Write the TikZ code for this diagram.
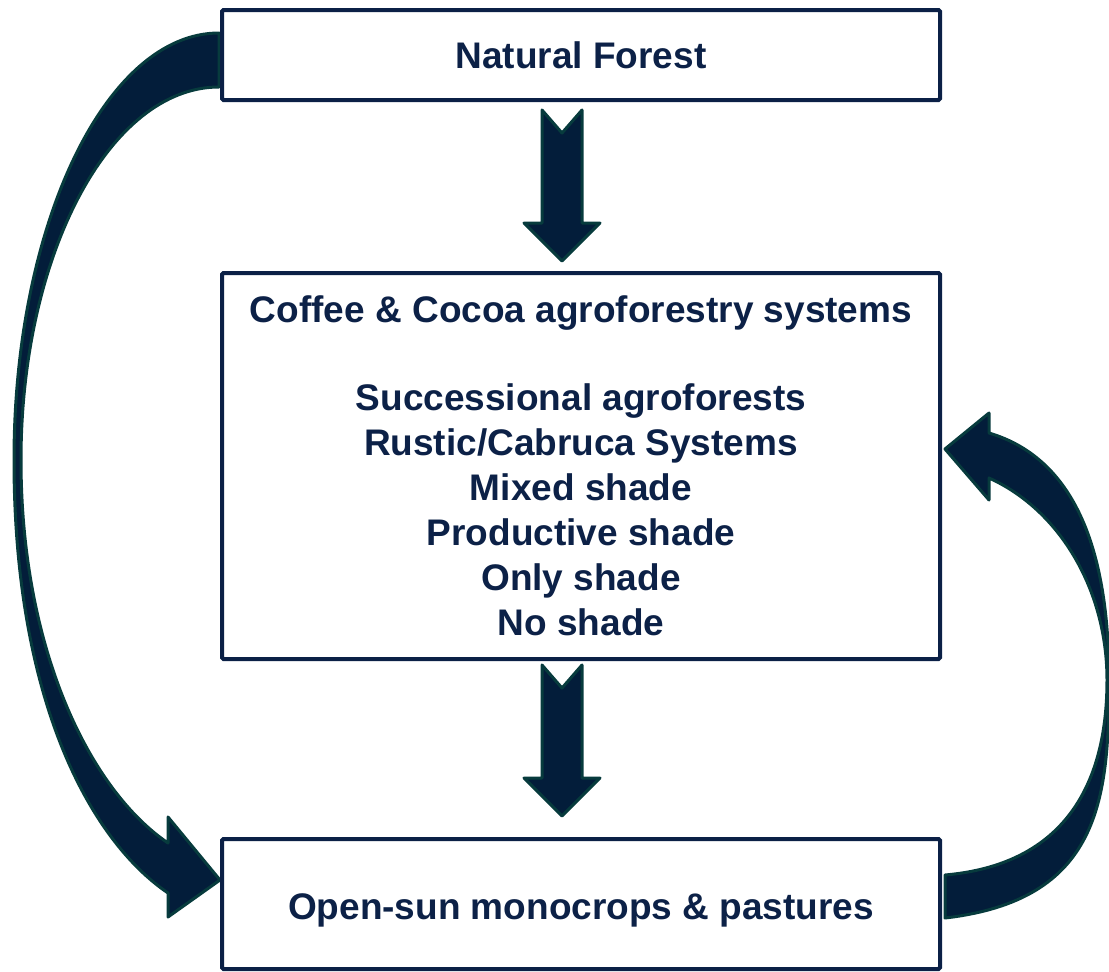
\documentclass[tikz,border=0pt]{standalone}
\usepackage{fontspec}
\setmainfont{Liberation Sans}
\usepackage{tikz}
\usetikzlibrary{calc}
\usetikzlibrary{positioning}
\definecolor{boxnavy}{HTML}{0B2046}
\definecolor{textnavy}{HTML}{0C2147}
\definecolor{arrowfill}{HTML}{031D3A}
\definecolor{arrowedge}{HTML}{073B3D}
\newcommand{\dnarrow}[1]{%
  \draw[blockarrow] ($(#1)+(-20,0)$) -- ++(20,23) -- ++(20,-23) -- ++(0,113)
    -- ++(18,0) -- ++(-38,38) -- ++(-38,-38) -- ++(18,0) -- cycle;}

\begin{document}
\begin{tikzpicture}[x=1pt,y=-1pt,
    box/.style={draw=boxnavy, line width=4pt, fill=white, rounded corners=1.5pt,
      minimum width=718pt, text=textnavy, align=center,
      font=\fontsize{37}{45}\selectfont\bfseries},
    blockarrow/.style={draw=arrowedge, fill=arrowfill, line width=3pt,
      line join=round}]

                \useasboundingbox (0,0) rectangle (1109,972);

                % Curved arrows first, so the boxes sit on top of their ends
                \draw[blockarrow] (219,33) .. controls (106,33) and (14,224) .. (14,460)
                  .. controls (14,700) and (90,840) .. (168,893)
                  -- (168,917) -- (220,880) -- (168,817) -- (168,843)
                  .. controls (90,790) and (21,650) .. (21,460)
                  .. controls (21,254) and (110,87) .. (219,87) -- cycle;
                \draw[blockarrow] (945,918) .. controls (1100,900) and (1109,800) .. (1109,680)
                  .. controls (1109,560) and (1080,460) .. (989,433)
                  -- (989,413) -- (945,449) -- (989,500) -- (989,478)
                  .. controls (1060,510) and (1107,590) .. (1107,680)
                  .. controls (1107,790) and (1060,865) .. (945,875) -- cycle;

                \node[box, minimum height=90pt] (forest) at (581,55)
                {Natural Forest};
                \node[box, minimum height=386pt, below=169pt of forest] (agro)
                {Coffee \& Cocoa agroforestry systems\\[43pt]
                 Successional agroforests\\ Rustic/Cabruca Systems\\ Mixed shade\\
                 Productive shade\\ Only shade\\ No shade};
                \node[box, minimum height=130pt, below=176pt of agro,
                  text height=39pt, text depth=8pt] (open)
                {Open-sun monocrops \& pastures};

                \coordinate (s1) at ($(forest.south)+(-19,8)$);
                \coordinate (s2) at ($(agro.south)+(-19,4)$);
                \dnarrow{s1}
                \dnarrow{s2}

\end{tikzpicture}
\end{document}
